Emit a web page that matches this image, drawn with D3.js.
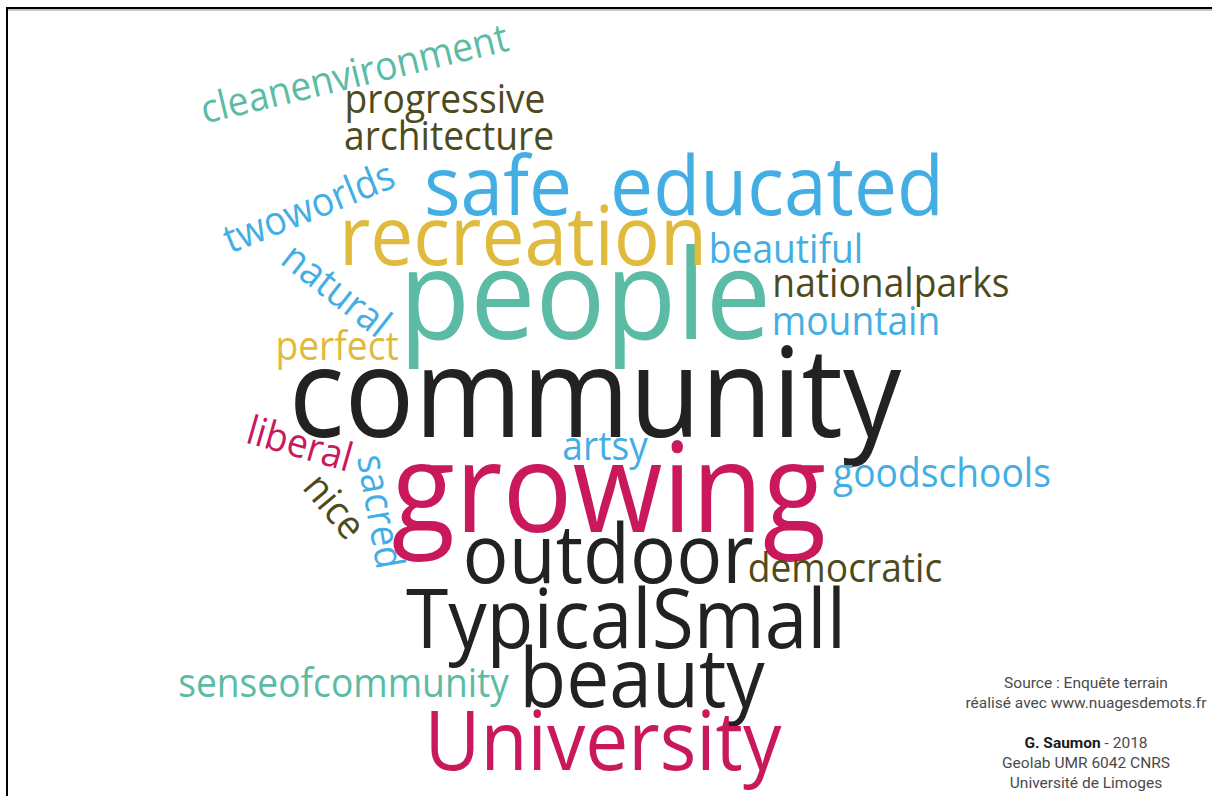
<!DOCTYPE html>
<html>
<head>
<meta charset="utf-8">
<script src="https://cdn.jsdelivr.net/npm/d3@7"></script>
<style>
  html, body { margin: 0; padding: 0; background: #ffffff; }
  svg { display: block; }
</style>
</head>
<body>
<svg id="chart" width="1212" height="796"></svg>
<script>
// ---- data ----
const words = ["community","growing","people","safe","educated","recreation","outdoor","TypicalSmall","beauty","University",
  "beautiful","nationalparks","mountain","perfect","artsy","goodschools","democratic","senseofcommunity","progressive","architecture",
  "cleanenvironment","twoworlds","natural","liberal","sacred","nice"];
const weights = [3,3,3,2,2,2,2,2,2,2, 1,1,1,1,1,1,1,1,1,1, 1,1,1,1,1,1];
const colorGroups = ["black","crimson","teal","blue","blue","gold","black","black","black","crimson",
  "blue","olive","blue","gold","blue","blue","olive","teal","olive","olive",
  "teal","blue","blue","crimson","blue","olive"];
const angles = [0,0,0,0,0,0,0,0,0,0, 0,0,0,0,0,0,0,0,0,0, -13.5,-22,38,16,80,50];
// layout of the cloud (per-mille of the frame)
const layoutX = [490.9,502.5,482.7,410.9,641.1,431.5,501.7,516.5,529.7,497.5,
  648.5,735.1,706.3,278.1,499.2,777.2,697.2,283.5,367.2,370.5,
  295.0,259.1,270.6,244.2,302.8,267.3];
const layoutY = [549.0,668.3,425.9,270.1,270.1,332.9,732.4,814.1,888.2,967.3,
  330.4,373.1,420.9,452.3,577.9,611.8,731.2,875.6,142.0,188.4,
  109.3,276.4,378.1,574.1,645.7,647.0];
const footerLines = ["Source : Enquête terrain","réalisé avec www.nuagesdemots.fr","","G. Saumon| - 2018","Geolab UMR 6042 CNRS","Université de Limoges"];

// ---- drawing ----
const W = 1212, H = 796;
const svg = d3.select("#chart");
const x = d3.scaleLinear().domain([0,1000]).range([0,W]);
const y = d3.scaleLinear().domain([0,1000]).range([0,H]);
const size = d3.scaleLinear().domain([1,3]).range([40,125]);
const color = d3.scaleOrdinal()
  .domain(["teal","blue","gold","olive","black","crimson"])
  .range(["#5bbba4","#43aee3","#dfba3c","#4f4a1c","#222222","#c9195c"]);
const squeeze = 0.93;

// frame
svg.append("line").attr("x1",7).attr("x2",W).attr("y1",10).attr("y2",10).attr("stroke","#b5b5b5").attr("stroke-width",1.5);
svg.append("line").attr("x1",6).attr("x2",W).attr("y1",8).attr("y2",8).attr("stroke","#000").attr("stroke-width",2);
svg.append("line").attr("x1",7).attr("x2",7).attr("y1",7).attr("y2",H).attr("stroke","#000").attr("stroke-width",2);

const data = words.map((w,i) => ({text:w, weight:weights[i], group:colorGroups[i], angle:angles[i], lx:layoutX[i], ly:layoutY[i]}));

svg.append("g").attr("class","cloud")
  .selectAll("text").data(data).join("text")
  .attr("transform", d => `translate(${x(d.lx)},${y(d.ly)}) rotate(${d.angle}) scale(${squeeze},1)`)
  .attr("text-anchor","middle")
  .style("font-family","'Open Sans', sans-serif")
  .style("font-size", d => size(d.weight) + "px")
  .attr("fill", d => color(d.group))
  .text(d => d.text);

// footer
const foot = svg.append("g").attr("class","footer")
  .style("font-family","Roboto, sans-serif").style("font-size","15.5px").attr("fill","#4a4a4a");
const footY = d3.scaleLinear().domain([0,5]).range([688,788]);
footerLines.forEach((line,i) => {
  if (!line) return;
  const t = foot.append("text").attr("x",1086).attr("y",footY(i)).attr("text-anchor","middle");
  if (line.includes("|")) {
    const [b, r] = line.split("|");
    t.append("tspan").style("font-weight","bold").attr("fill","#1a1a1a").text(b);
    t.append("tspan").text(r);
  } else t.text(line);
});
</script>
</body>
</html>
